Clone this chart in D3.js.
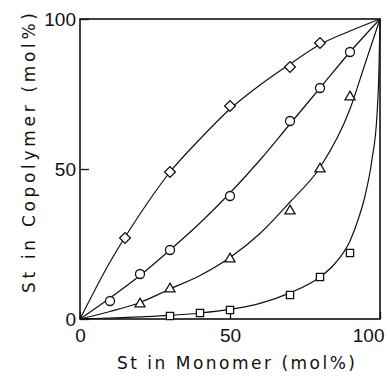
<!DOCTYPE html>
<html>
<head>
<meta charset="utf-8">
<script src="https://cdn.jsdelivr.net/npm/d3@7"></script>
<style>
  body { margin: 0; background: #fff; }
  svg { display: block; }
  .tick text { font-family: "Liberation Sans", Arial, sans-serif; font-size: 19px; fill: #111; }
  .title { font-family: "DejaVu Sans", sans-serif; font-size: 17px; fill: #111; }
</style>
</head>
<body>
<div id="chart"></div>
<script>
// measured points (St in monomer, St in copolymer), mol%
const diamondPts = [[15, 27], [30, 49], [50, 71], [70, 84], [80, 92]];
const circlePts = [[10, 6], [20, 15], [30, 23], [50, 41], [70, 66], [80, 77], [90, 89]];
const trianglePts = [[20, 5], [30, 10], [50, 20], [70, 36], [80, 50], [90, 74]];
const squarePts = [[30, 1], [40, 2], [50, 3], [70, 8], [80, 14], [90, 22]];

// fitted curves
const diamondCurve = [[0, 0], [10, 19], [20, 35], [30, 49], [40, 60], [50, 70], [60, 78], [70, 85], [80, 91.5], [90, 96], [100, 100]];
const circleCurve = [[0, 0], [10, 7], [20, 14.5], [30, 23], [40, 32], [50, 42], [60, 53], [70, 65], [80, 77], [90, 89], [100, 100]];
const triangleCurve = [[0, 0], [10, 2.5], [20, 5.5], [30, 10], [40, 14.5], [50, 20.5], [60, 28.5], [70, 39], [80, 50.5], [90, 70], [95, 85], [100, 100]];
const squareCurve = [[0, 0], [10, 0.3], [20, 0.7], [30, 1.2], [40, 2], [50, 3.2], [60, 5.2], [70, 8.7], [80, 14], [85, 18.5], [90, 26], [93, 34], [95, 41], [97.3, 53], [99, 68], [99.7, 85], [100, 100]];

const xTicks = [0, 50, 100];
const yTicks = [0, 50, 100];

const width = 390, height = 382;
const margin = { top: 19, right: 10, bottom: 63, left: 80 };

const svg = d3.select('#chart').append('svg')
  .attr('width', width)
  .attr('height', height);

const x = d3.scaleLinear().domain([0, 100]).range([margin.left, width - margin.right]);
const y = d3.scaleLinear().domain([0, 100]).range([height - margin.bottom, margin.top]);

// axes (inward ticks)
const gx = svg.append('g')
  .attr('transform', 'translate(0,' + y(0) + ')')
  .call(d3.axisBottom(x).tickValues(xTicks).tickSize(-7).tickPadding(9.5));
const gy = svg.append('g')
  .attr('transform', 'translate(' + x(0) + ',0)')
  .call(d3.axisLeft(y).tickValues(yTicks).tickSize(-9).tickPadding(4));
gx.select('.domain').remove();
gy.select('.domain').remove();
svg.selectAll('.tick line').attr('stroke', '#111').attr('stroke-width', 1.3);
gx.selectAll('.tick text').filter(d => d === 100).attr('text-anchor', 'end').attr('x', 4);

// frame
svg.append('rect')
  .attr('x', x(0)).attr('y', y(100))
  .attr('width', x(100) - x(0)).attr('height', y(0) - y(100))
  .attr('fill', 'none').attr('stroke', '#111').attr('stroke-width', 1.6);

// curves
const line = d3.line().x(d => x(d[0])).y(d => y(d[1])).curve(d3.curveMonotoneX);
[diamondCurve, circleCurve, triangleCurve, squareCurve].forEach(c => {
  svg.append('path').datum(c)
    .attr('d', line)
    .attr('fill', 'none').attr('stroke', '#111').attr('stroke-width', 1.2);
});

// markers
function markers(pts, type, size, rot) {
  svg.append('g').selectAll('path')
    .data(pts).enter().append('path')
    .attr('d', d3.symbol().type(type).size(size))
    .attr('transform', d => 'translate(' + x(d[0]) + ',' + y(d[1]) + ') rotate(' + rot + ')')
    .attr('fill', '#fff').attr('stroke', '#111').attr('stroke-width', 1.3);
}
markers(diamondPts, d3.symbolSquare, 58, 45);
markers(circlePts, d3.symbolCircle, 64, 0);
markers(trianglePts, d3.symbolTriangle, 44, 0);
markers(squarePts, d3.symbolSquare, 52, 0);

// titles
svg.append('text').attr('class', 'title')
  .attr('x', 236).attr('y', 369)
  .attr('text-anchor', 'middle')
  .attr('textLength', 238).attr('lengthAdjust', 'spacing')
  .text('St in Monomer (mol%)');
svg.append('text').attr('class', 'title')
  .attr('transform', 'translate(35,153) rotate(-90)')
  .attr('text-anchor', 'middle')
  .attr('textLength', 280).attr('lengthAdjust', 'spacing')
  .text('St in Copolymer (mol%)');
</script>
</body>
</html>
